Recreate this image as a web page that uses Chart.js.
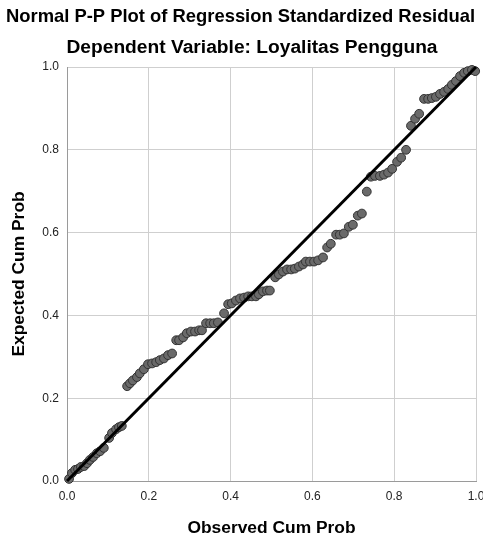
<!DOCTYPE html>
<html>
<head>
<meta charset="utf-8">
<script src="https://cdn.jsdelivr.net/npm/chart.js@4.4.1/dist/chart.umd.min.js"></script>
<style>
  html, body { margin: 0; padding: 0; background: #fff; overflow: hidden; }
  #wrap { width: 483px; height: 541px; position: relative; }
</style>
</head>
<body>
<div id="wrap"><canvas id="c" width="483" height="541"></canvas></div>
<script>
const titleText = "Normal P-P Plot of Regression Standardized Residual";
const subtitleText = "Dependent Variable: Loyalitas Pengguna";
const xAxisTitle = "Observed Cum Prob";
const yAxisTitle = "Expected Cum Prob";
const tickValues = [0.0, 0.2, 0.4, 0.6, 0.8, 1.0];

const observedCumProb = [
  0.005, 0.012, 0.020, 0.027, 0.034, 0.042, 0.049, 0.056, 0.064, 0.073,
  0.081, 0.090, 0.103, 0.110, 0.120, 0.127, 0.134, 0.147, 0.154, 0.161,
  0.171, 0.178, 0.188, 0.198, 0.208, 0.218, 0.227, 0.237, 0.247, 0.257,
  0.267, 0.274, 0.284, 0.293, 0.303, 0.313, 0.323, 0.330, 0.340, 0.350,
  0.359, 0.369, 0.384, 0.394, 0.403, 0.413, 0.423, 0.433, 0.443, 0.452,
  0.462, 0.469, 0.479, 0.489, 0.496, 0.509, 0.518, 0.528, 0.538, 0.548,
  0.557, 0.567, 0.577, 0.584, 0.594, 0.604, 0.614, 0.626, 0.636, 0.645,
  0.658, 0.667, 0.677, 0.689, 0.699, 0.711, 0.721, 0.733, 0.743, 0.753,
  0.765, 0.775, 0.785, 0.795, 0.807, 0.817, 0.829, 0.841, 0.851, 0.861,
  0.873, 0.883, 0.892, 0.902, 0.912, 0.922, 0.932, 0.941, 0.951, 0.961,
  0.971, 0.980, 0.990, 0.998
];
const expectedCumProb = [
  0.005, 0.019, 0.027, 0.029, 0.034, 0.036, 0.043, 0.051, 0.058, 0.067,
  0.072, 0.080, 0.104, 0.116, 0.125, 0.130, 0.133, 0.229, 0.236, 0.243,
  0.251, 0.260, 0.270, 0.282, 0.284, 0.287, 0.292, 0.296, 0.304, 0.308,
  0.340, 0.340, 0.347, 0.357, 0.361, 0.361, 0.364, 0.364, 0.381, 0.381,
  0.381, 0.383, 0.405, 0.427, 0.429, 0.436, 0.441, 0.443, 0.446, 0.446,
  0.446, 0.451, 0.458, 0.460, 0.460, 0.492, 0.499, 0.506, 0.511, 0.511,
  0.513, 0.518, 0.523, 0.530, 0.530, 0.530, 0.533, 0.540, 0.564, 0.573,
  0.595, 0.595, 0.598, 0.614, 0.619, 0.641, 0.646, 0.699, 0.735, 0.737,
  0.737, 0.740, 0.745, 0.754, 0.771, 0.781, 0.800, 0.858, 0.875, 0.887,
  0.923, 0.923, 0.925, 0.928, 0.935, 0.940, 0.947, 0.957, 0.966, 0.978,
  0.986, 0.990, 0.993, 0.990
];
const refLineX = [0, 1];
const refLineY = [0, 1];

const points = observedCumProb.map((x, i) => ({ x: x, y: expectedCumProb[i] }));
const refLine = refLineX.map((x, i) => ({ x: x, y: refLineY[i] }));

const FONT = "'Liberation Sans', Arial, sans-serif";

const headerPlugin = {
  id: 'header',
  afterDraw(chart) {
    const ctx = chart.ctx;
    ctx.save();
    ctx.fillStyle = '#000';
    ctx.textAlign = 'center';
    ctx.textBaseline = 'middle';
    ctx.font = "bold 18.4px " + FONT;
    ctx.fillText(titleText, 240.5, 17);
    ctx.font = "bold 19.2px " + FONT;
    ctx.fillText(subtitleText, 252, 48);
    ctx.restore();
  }
};

new Chart(document.getElementById('c'), {
  type: 'scatter',
  data: {
    datasets: [
      {
        type: 'line',
        data: refLine,
        borderColor: '#000',
        borderWidth: 3,
        pointRadius: 0,
        fill: false,
        order: 0,
        clip: false
      },
      {
        data: points,
        backgroundColor: '#6a6a6a',
        borderColor: '#333',
        borderWidth: 1,
        pointRadius: 4.4,
        order: 1,
        clip: false
      }
    ]
  },
  plugins: [headerPlugin],
  options: {
    responsive: false,
    animation: false,
    devicePixelRatio: 1,
    layout: { padding: { left: 0, right: 7, top: 67, bottom: 0 } },
    plugins: {
      legend: { display: false },
      tooltip: { enabled: false },
      title: { display: false },
      subtitle: { display: false }
    },
    scales: {
      x: {
        type: 'linear',
        min: 0, max: 1,
        afterBuildTicks: (s) => { s.ticks = tickValues.map(v => ({ value: v })); },
        afterFit: (s) => { s.height = 60; s.paddingRight = 0; s.paddingLeft = 0; },
        ticks: {
          color: '#222',
          font: { family: FONT, size: 12 },
          padding: 8,
          maxRotation: 0,
          callback: (v) => Number(v).toFixed(1)
        },
        grid: { color: '#cfcfcf', lineWidth: 1, drawTicks: false },
        border: { color: '#9a9a9a', width: 1 },
        title: {
          display: true,
          text: xAxisTitle,
          color: '#000',
          font: { family: FONT, size: 17.4, weight: 'bold' },
          padding: { top: 10, bottom: 2.5 }
        }
      },
      y: {
        type: 'linear',
        min: 0, max: 1,
        afterBuildTicks: (s) => { s.ticks = tickValues.map(v => ({ value: v })); },
        afterFit: (s) => { s.width = 67; s.paddingTop = 0; s.paddingBottom = 0; },
        ticks: {
          color: '#222',
          font: { family: FONT, size: 12 },
          padding: 8,
          callback: (v) => Number(v).toFixed(1)
        },
        grid: { color: '#cfcfcf', lineWidth: 1, drawTicks: false },
        border: { color: '#9a9a9a', width: 1 },
        title: {
          display: true,
          text: yAxisTitle,
          color: '#000',
          font: { family: FONT, size: 17.4, weight: 'bold' },
          padding: { top: 9, bottom: 0 }
        }
      }
    }
  }
});
</script>
</body>
</html>
